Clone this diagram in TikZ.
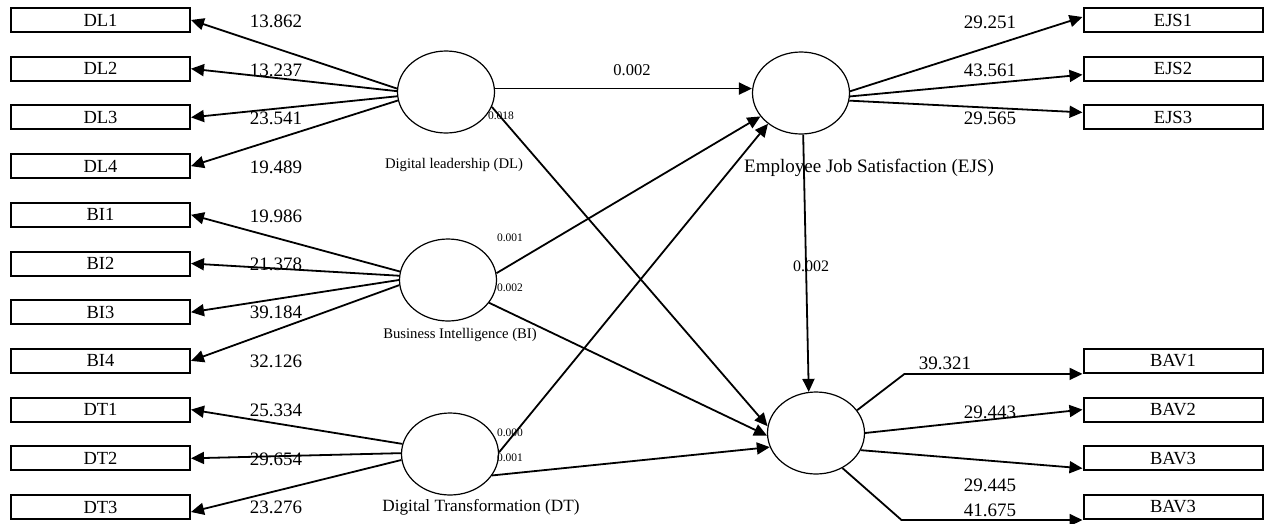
\documentclass[tikz,border=0pt]{standalone}
\usepackage{fontspec}
\setmainfont{Liberation Serif}
\usetikzlibrary{shapes,arrows.meta}
\tikzset{
ind/.style={
	  draw, line width=2pt, minimum width=179pt, minimum height=24pt,
	    inner sep=0pt, font=\fontsize{18.5}{20}\selectfont},
lat/.style={
	  draw, ellipse, line width=1.2pt, minimum width=97pt,
	    minimum height=82pt, inner sep=0pt},
ld/.style={inner sep=0pt, font=\fontsize{19}{21}\selectfont},
pv/.style={inner sep=0pt, font=\fontsize{11.5}{13}\selectfont},
lnk/.style={line width=1.8pt, -{Triangle[length=13pt,width=12pt]}}
}

\begin{document}
\begin{tikzpicture}[x=1pt, y=-1pt]
	\useasboundingbox (0,0) rectangle (1264,523);
	\foreach \n/\t/\y in {dl1/DL1/20, dl2/DL2/68.7, dl3/DL3/117.4, dl4/DL4/166.1,
		bi1/BI1/214.8, bi2/BI2/263.5, bi3/BI3/312.2, bi4/BI4/360.9,
		dt1/DT1/409.6, dt2/DT2/458.3, dt3/DT3/507}
		\node[ind] (\n) at (100.5,\y) {\t};
	\foreach \n/\t/\y in {ejs1/EJS1/20, ejs2/EJS2/68.7, ejs3/EJS3/117.4,
		bav1/BAV1/360.9, bav2/BAV2/409.6, bav3/BAV3/458.3, bav4/BAV3/507}
		\node[ind] (\n) at (1173,\y) {\t};

	\node[lat] (dl) at (446,92) {};
	\node[lat] (bi) at (448,280) {};
	\node[lat] (dt) at (450,454) {};
	\node[lat] (ejs) at (801,93) {};
	\node[lat] (bav) at (816,433) {};

	\node[inner sep=0pt, font=\fontsize{14.7}{16}\selectfont] (dlname) at (454,165) {Digital leadership (DL)};
	\node[inner sep=0pt, font=\fontsize{14.7}{16}\selectfont] (biname) at (460,335) {Business Intelligence (BI)};
	\node[inner sep=0pt, font=\fontsize{17.2}{19}\selectfont] (dtname) at (481,507) {Digital Transformation (DT)};
	\node[ld] (ejsname) at (869,168) {Employee Job Satisfaction (EJS)};

	\draw[lnk] (dl.176) -- (dl1.east);
	\draw[lnk] (dl.179) -- (dl2.east);
	\draw[lnk] (dl.185) -- (dl3.east);
	\draw[lnk] (dl.190) -- (dl4.east);
	\draw[lnk] (bi.170) -- (bi1.east);
	\draw[lnk] (bi.175) -- (bi2.east);
	\draw[lnk] (bi.180) -- (bi3.east);
	\draw[lnk] (bi.186) -- (bi4.east);
	\draw[lnk] (dt.168) -- (dt1.east);
	\draw[lnk] (dt.179) -- (dt2.east);
	\draw[lnk] (dt.187) -- ([yshift=-5pt]dt3.east);
	\draw[lnk] (ejs.2) -- ([yshift=3pt]ejs1.west);
	\draw[lnk] (ejs.-4) -- ([yshift=-6pt]ejs2.west);
	\draw[lnk] (ejs.-9) -- ([yshift=5pt]ejs3.west);
	\draw[lnk] (bav.29) -- ([xshift=-178pt]bav1.south west) -- (bav1.south west);
	\draw[lnk] (bav.0) -- (bav2.west);
	\draw[lnk] (bav.-21) -- ([yshift=3pt]bav3.south west);
	\draw[lnk] (bav.-53) -- ([xshift=-181pt]bav4.south west) -- (bav4.south west);

	\draw[lnk] (dl.4) -- (dl.4 -| ejs.west);
	\draw[lnk] (dl.-18) -- (bav.172);
	\draw[lnk] (bi.8) -- (ejs.210);
	\draw[lnk] (bi.-29) -- (bav.183);
	\draw[lnk] (dt.2) -- (ejs.223);
	\draw[lnk] (dt.-27) -- (bav.197);
	\draw[lnk] (ejs.-87) -- (bav.100);

	\node[inner sep=0pt, font=\fontsize{16.5}{18}\selectfont] (p1) at (632,70) {0.002};
	\node[inner sep=0pt, font=\fontsize{16}{18}\selectfont] (p2) at (811,266) {0.002};
	\node[pv] (p3) at (501,116) {0.018};
	\node[pv] (p4) at (510,238) {0.001};
	\node[pv] (p5) at (510,288) {0.002};
	\node[pv] (p6) at (510,433) {0.000};
	\node[pv] (p7) at (510,458) {0.001};

	\foreach \v/\y [count=\i] in {13.862/21, 13.237/70, 23.541/118, 19.489/167,
		19.986/216, 21.378/264, 39.184/312, 32.126/361,
		25.334/410, 29.654/459, 23.276/507}
		\node[ld] (l\i) at (276,\y) {\v};
	\foreach \v/\x/\y [count=\i] in {29.251/990/22, 43.561/990/70, 29.565/990/118,
		39.321/945/363, 29.443/990/412, 29.445/990/485, 41.675/990/510}
		\node[ld] (r\i) at (\x,\y) {\v};
\end{tikzpicture}
\end{document}
